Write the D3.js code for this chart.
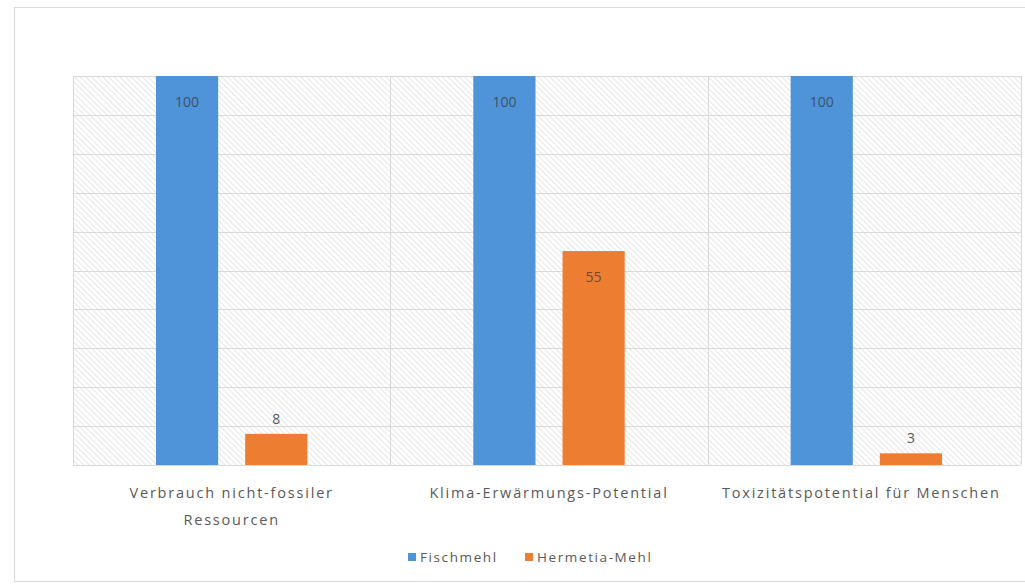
<!DOCTYPE html>
<html>
<head>
<meta charset="utf-8">
<script src="https://cdn.jsdelivr.net/npm/d3@7.9.0/dist/d3.min.js"></script>
<style>
  body { margin: 0; background: #fff; }
  svg { display: block; font-family: "Open Sans", sans-serif; }
</style>
</head>
<body>
<svg id="chart" width="1025" height="584"></svg>
<script>
const categories = [["Verbrauch nicht-fossiler", "Ressourcen"], ["Klima-Erwärmungs-Potential"], ["Toxizitätspotential für Menschen"]];
const seriesNames = ["Fischmehl", "Hermetia-Mehl"];
const fischmehl = [100, 100, 100];
const hermetia = [8, 55, 3];
const colors = ["#4f93d8", "#ed7d31"];

const svg = d3.select("#chart");
const margin = { left: 73, right: 0, top: 76, bottom: 119 };
const width = 1025 - margin.left - margin.right;
const height = 584 - margin.top - margin.bottom;

// outer frame
svg.append("rect")
  .attr("x", 14.5).attr("y", 7.5)
  .attr("width", 1030).attr("height", 574)
  .attr("fill", "none").attr("stroke", "#d9d9d9");

// hatch pattern
const defs = svg.append("defs");
const pat = defs.append("pattern")
  .attr("id", "hatch")
  .attr("patternUnits", "userSpaceOnUse")
  .attr("width", 4).attr("height", 4)
  .attr("patternTransform", "rotate(-45)");
pat.append("rect").attr("width", 4).attr("height", 4).attr("fill", "#fff");
pat.append("line")
  .attr("x1", 0).attr("y1", 0).attr("x2", 0).attr("y2", 4)
  .attr("stroke", "#d6d6d6").attr("stroke-width", 1.2);

const g = svg.append("g").attr("transform", `translate(${margin.left},${margin.top})`);

const x = d3.scaleBand().domain(d3.range(categories.length)).range([0, width]).paddingInner(0).paddingOuter(0);
const y = d3.scaleLinear().domain([0, 100]).range([height, 0]);

const plotRight = width - 4;
g.append("rect").attr("width", plotRight).attr("height", height).attr("fill", "url(#hatch)");

// gridlines
g.selectAll(".grid").data(y.ticks(10)).join("line")
  .attr("x1", 0).attr("x2", plotRight)
  .attr("y1", d => Math.round(y(d)) + 0.5).attr("y2", d => Math.round(y(d)) + 0.5)
  .attr("stroke", "#d9d9d9");

// vertical separators
g.selectAll(".sep").data(d3.range(categories.length + 1)).join("line")
  .attr("x1", i => Math.round(i < categories.length ? x(i) : plotRight) + 0.5)
  .attr("x2", i => Math.round(i < categories.length ? x(i) : plotRight) + 0.5)
  .attr("y1", 0).attr("y2", height)
  .attr("stroke", "#d9d9d9");

const inner = d3.scaleBand().domain([0, 1]).range([0, x.bandwidth()]).paddingInner(0.303).paddingOuter(0.93);

const rows = categories.map((c, i) => ({ i, values: [fischmehl[i], hermetia[i]] }));

const grp = g.selectAll(".cat").data(rows).join("g")
  .attr("transform", d => `translate(${x(d.i)},0)`);

grp.selectAll("rect").data(d => d.values.map((v, s) => ({ v, s }))).join("rect")
  .attr("x", d => inner(d.s))
  .attr("width", inner.bandwidth())
  .attr("y", d => y(d.v))
  .attr("height", d => height - y(d.v))
  .attr("fill", d => colors[d.s]);

grp.selectAll("text").data(d => d.values.map((v, s) => ({ v, s }))).join("text")
  .attr("x", d => inner(d.s) + inner.bandwidth() / 2)
  .attr("y", d => d.v >= 20 ? y(d.v) + 31 : y(d.v) - 10)
  .attr("text-anchor", "middle")
  .attr("font-size", 14)
  .attr("fill", d => d.v >= 20 ? "rgba(50,50,50,0.7)" : "#595959")
  .text(d => d.v);

// category labels
const labels = g.selectAll(".lab").data(categories).join("text")
  .attr("x", (d, i) => x(i) + x.bandwidth() / 2 - (i === 2 ? 5 : 0))
  .attr("y", height + 33)
  .attr("text-anchor", "middle")
  .attr("font-size", 14.5)
  .attr("letter-spacing", 1.8)
  .attr("fill", "#595959");
labels.selectAll("tspan").data(d => d).join("tspan")
  .attr("x", function () { return d3.select(this.parentNode).attr("x"); })
  .attr("dy", (d, j) => j === 0 ? 0 : 27)
  .text(d => d);

// legend
const legend = svg.append("g").attr("transform", "translate(408,557)");
const items = [{ x: 0 }, { x: 117 }];
seriesNames.forEach((name, s) => {
  const it = legend.append("g").attr("transform", `translate(${items[s].x},0)`);
  it.append("rect").attr("x", 0).attr("y", -4).attr("width", 8).attr("height", 8).attr("fill", colors[s]);
  it.append("text").attr("x", 12).attr("y", 5)
    .attr("font-size", 13.5).attr("letter-spacing", 1.6)
    .attr("fill", "#595959").text(name);
});
</script>
</body>
</html>
